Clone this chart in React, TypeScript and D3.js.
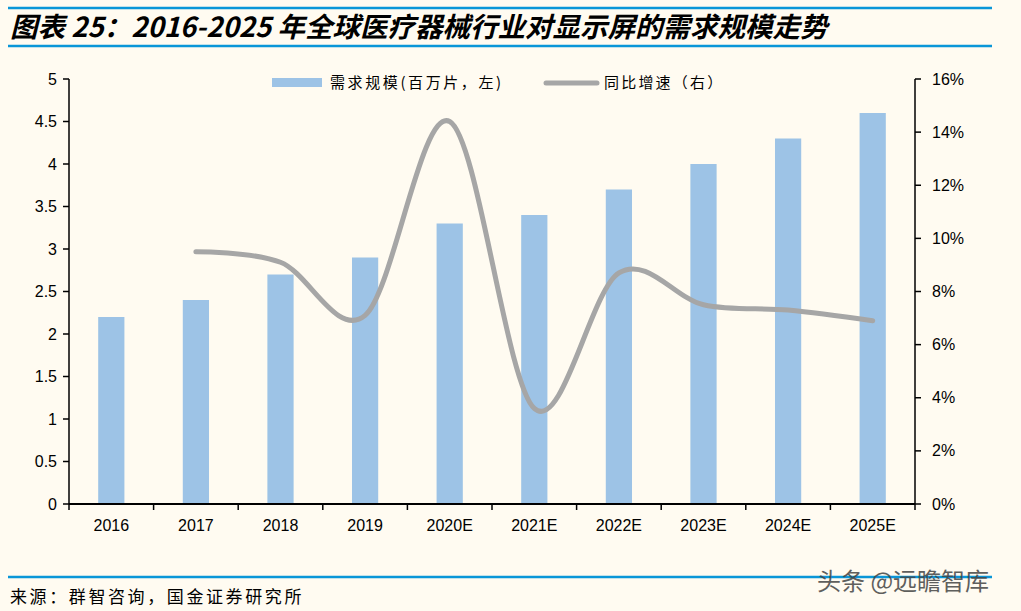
import React from "react";
import * as d3 from "d3";

const categories = ["2016", "2017", "2018", "2019", "2020E", "2021E", "2022E", "2023E", "2024E", "2025E"];
const demand = [2.2, 2.4, 2.7, 2.9, 3.3, 3.4, 3.7, 4.0, 4.3, 4.6];
const growthYears = ["2017", "2018", "2019", "2020E", "2021E", "2022E", "2023E", "2024E", "2025E"];
const growth = [9.5, 9.1, 7.1, 14.4, 3.6, 8.7, 7.5, 7.3, 6.9];
const leftTicks = [0, 0.5, 1, 1.5, 2, 2.5, 3, 3.5, 4, 4.5, 5];
const rightTicks = [0, 2, 4, 6, 8, 10, 12, 14, 16];

const W = 1021, H = 611;
const X0 = 69, X1 = 915, Y0 = 504, Y1 = 79;
const BLUE = "#9dc3e6";
const GRAY = "#a6a6a6";
const LINE = "#0a96d8";
const NUM_FONT = "Arial, 'Liberation Sans', sans-serif";
const CJK = "'Noto Sans CJK SC', sans-serif";

export default function App() {
  const x = d3.scaleBand<string>().domain(categories).range([X0, X1]).paddingInner(0).paddingOuter(0);
  const yL = d3.scaleLinear().domain([0, 5]).range([Y0, Y1]);
  const yR = d3.scaleLinear().domain([0, 16]).range([Y0, Y1]);
  const bw = x.bandwidth() * 0.31;
  const line = d3
    .line<number>()
    .x((_, i) => (x(growthYears[i]) as number) + x.bandwidth() / 2)
    .y((d) => yR(d))
    .curve(d3.curveCardinal.tension(0));
  const path = line(growth) || "";
  const boundaries = d3.range(categories.length + 1).map((i) => X0 + i * x.bandwidth());

  return (
    <svg width={W} height={H} style={{ position: "absolute", left: 0, top: 0, background: "#fffbf1" }}>
      <rect x={0} y={0} width={W} height={H} fill="#fffbf1" />
      {/* title */}
      <line x1={8} x2={992} y1={8} y2={8} stroke={LINE} strokeWidth={2.5} />
      <line x1={8} x2={992} y1={46} y2={46} stroke={LINE} strokeWidth={2.5} />
      <text x={10} y={37} fontFamily={CJK} fontWeight="bold" fontStyle="italic" fontSize={27.5} fill="#000">
        图表 25：2016-2025 年全球医疗器械行业对显示屏的需求规模走势
      </text>

      {/* bars */}
      {demand.map((v, i) => {
        const cx = (x(categories[i]) as number) + x.bandwidth() / 2;
        return <rect key={i} x={cx - bw / 2} y={yL(v)} width={bw} height={Y0 - yL(v)} fill={BLUE} />;
      })}

      {/* growth line */}
      <path d={path} fill="none" stroke={GRAY} strokeWidth={5} strokeLinecap="round" strokeLinejoin="round" />

      {/* left axis */}
      <line x1={X0} x2={X0} y1={Y1} y2={Y0} stroke="#000" strokeWidth={1.5} />
      {leftTicks.map((t) => (
        <g key={t}>
          <line x1={X0 - 6} x2={X0} y1={yL(t)} y2={yL(t)} stroke="#000" strokeWidth={1.5} />
          <text x={57} y={yL(t)} dy="0.35em" textAnchor="end" fontFamily={NUM_FONT} fontSize={16} fill="#000">
            {t}
          </text>
        </g>
      ))}
      {/* right axis */}
      <line x1={X1} x2={X1} y1={Y1} y2={Y0} stroke="#000" strokeWidth={1.5} />
      {rightTicks.map((t) => (
        <g key={t}>
          <line x1={X1} x2={X1 + 6} y1={yR(t)} y2={yR(t)} stroke="#000" strokeWidth={1.5} />
          <text x={932} y={yR(t)} dy="0.35em" textAnchor="start" fontFamily={NUM_FONT} fontSize={16} fill="#000">
            {t}%
          </text>
        </g>
      ))}
      {/* x axis */}
      <line x1={X0} x2={X1} y1={Y0} y2={Y0} stroke="#000" strokeWidth={2} />
      {boundaries.map((bx, i) => (
        <line key={i} x1={bx} x2={bx} y1={Y0} y2={Y0 + 6} stroke="#000" strokeWidth={1.5} />
      ))}
      {categories.map((c) => (
        <text
          key={c}
          x={(x(c) as number) + x.bandwidth() / 2}
          y={531}
          textAnchor="middle"
          fontFamily={NUM_FONT}
          fontSize={16}
          fill="#000"
        >
          {c}
        </text>
      ))}

      {/* legend */}
      <rect x={272} y={78} width={50} height={9} fill={BLUE} />
      <text x={330} y={88} fontFamily={CJK} fontSize={15} letterSpacing={2.6} fill="#000">
        需求规模(百万片，左)
      </text>
      <line x1={546} x2={597} y1={83} y2={83} stroke={GRAY} strokeWidth={5} strokeLinecap="round" />
      <text x={604} y={88} fontFamily={CJK} fontSize={15} letterSpacing={2.2} fill="#000">
        同比增速（右）
      </text>

      {/* footer */}
      <line x1={8} x2={992} y1={577} y2={577} stroke={LINE} strokeWidth={2.5} />
      <text x={10} y={603} fontFamily={CJK} fontSize={17} letterSpacing={2.6} fill="#000">
        来源：群智咨询，国金证券研究所
      </text>
      <text x={817} y={590} fontFamily={CJK} fontSize={24} fill="#444" opacity={0.85}>
        头条 @远瞻智库
      </text>
    </svg>
  );
}
